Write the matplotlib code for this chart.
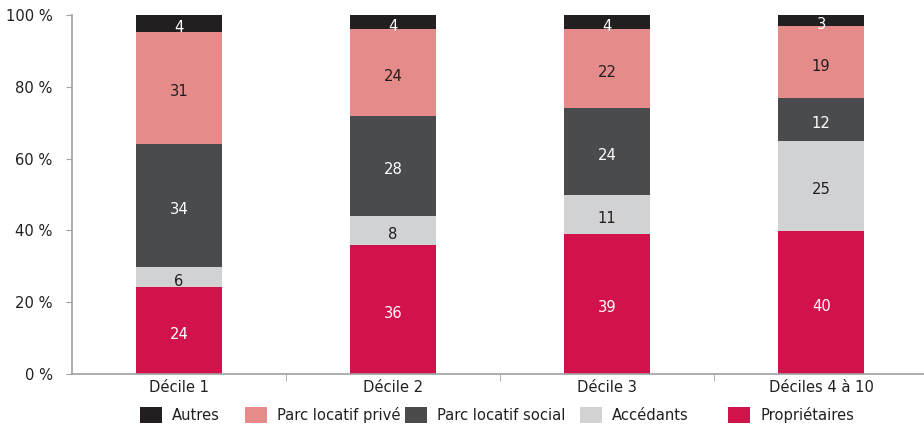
import matplotlib
matplotlib.use("Agg")
import matplotlib.pyplot as plt
from matplotlib.patches import Patch
from matplotlib import font_manager
import matplotlib.transforms as mtransforms

# pick a condensed font if one is installed, otherwise Roboto
cands = []
for f in font_manager.fontManager.ttflist:
    n = f.name
    st = str(f.stretch).lower()
    if ("narrow" in n.lower() or "condensed" in n.lower() or st in ("condensed", "semi-condensed", "500", "400")) and "mono" not in n.lower() and "serif" not in n.lower():
        cands.append((n, f.stretch, f.fname))
if cands:
    FONT = cands[0][0]
    STRETCH = cands[0][1]
else:
    FONT = "Roboto"
    STRETCH = "normal"
plt.rcParams["font.family"] = [FONT, "DejaVu Sans"]
plt.rcParams["font.stretch"] = STRETCH

categories = ["Décile 1", "Décile 2", "Décile 3", "Déciles 4 à 10"]
series_names = ["Propriétaires", "Accédants", "Parc locatif social", "Parc locatif privé", "Autres"]
# bar heights (shares, %)
proprietaires = [24.1, 36, 39, 39.9]
accedants = [5.6, 8, 11, 25.1]
social = [34.4, 28, 24, 11.9]
prive = [31.3, 24, 22, 20]
autres = [4.6, 4, 4, 3.1]
# labels printed on the bars
lab_proprietaires = [24, 36, 39, 40]
lab_accedants = [6, 8, 11, 25]
lab_social = [34, 28, 24, 12]
lab_prive = [31, 24, 22, 19]
lab_autres = [4, 4, 4, 3]
yticks = [0, 20, 40, 60, 80, 100]
ytick_labels = ["0 %", "20 %", "40 %", "60 %", "80 %", "100 %"]

colors = ["#D2124B", "#D1D2D4", "#4A4B4D", "#E58B8A", "#231F20"]
text_colors = ["white", "#231F20", "white", "#231F20", "white"]
series = [proprietaires, accedants, social, prive, autres]
labels = [lab_proprietaires, lab_accedants, lab_social, lab_prive, lab_autres]

FS = 11.8
fig = plt.figure(figsize=(9.24, 4.24), dpi=100)
ax = fig.add_axes([72 / 924, 1 - 374 / 424, (924 - 72) / 924, (374 - 15) / 424])

txt_off = mtransforms.offset_copy(ax.transData, fig=fig, x=0, y=-4, units="dots")
x = list(range(len(categories)))
bottom = [0] * len(categories)
for vals, labs, c, tc in zip(series, labels, colors, text_colors):
    ax.bar(x, vals, bottom=bottom, width=0.40, color=c, edgecolor="none", zorder=2)
    for xi, v, lb, b in zip(x, vals, labs, bottom):
        ax.text(xi, b + v / 2, str(lb), ha="center", va="center", color=tc,
                fontsize=FS, zorder=3, transform=txt_off)
    bottom = [b + v for b, v in zip(bottom, vals)]

ax.set_xlim(-0.5, 3.48)
ax.set_ylim(0, 100)
ax.set_yticks(yticks)
ax.set_yticklabels(ytick_labels, fontsize=FS, color="#231F20")
ax.set_xticks(x)
ax.set_xticklabels(categories, fontsize=FS, color="#231F20")
ax.set_xticks([0.5, 1.5, 2.5], minor=True)
ax.tick_params(axis="x", which="major", length=0, pad=4)
ax.tick_params(axis="x", which="minor", length=5, color="#A0A0A0", direction="out")
ax.tick_params(axis="y", length=4, color="#A0A0A0", pad=10)
for s in ["top", "right"]:
    ax.spines[s].set_visible(False)
for s in ["left", "bottom"]:
    ax.spines[s].set_color("#A0A0A0")
    ax.spines[s].set_linewidth(1.2)

legend_order = [4, 3, 2, 1, 0]
legend_x = [140, 245, 405, 580, 728]
for idx, lx in zip(legend_order, legend_x):
    leg = fig.legend(handles=[Patch(facecolor=colors[idx], edgecolor="none")],
                     labels=[series_names[idx]], loc="center left",
                     bbox_to_anchor=(lx / 924, 1 - 415 / 424), frameon=False,
                     fontsize=FS, handlelength=1.35, handleheight=1.1,
                     handletextpad=0.62, borderpad=0, borderaxespad=0)
    for t in leg.get_texts():
        t.set_color("#231F20")

fig.savefig("out.png", dpi=100)
